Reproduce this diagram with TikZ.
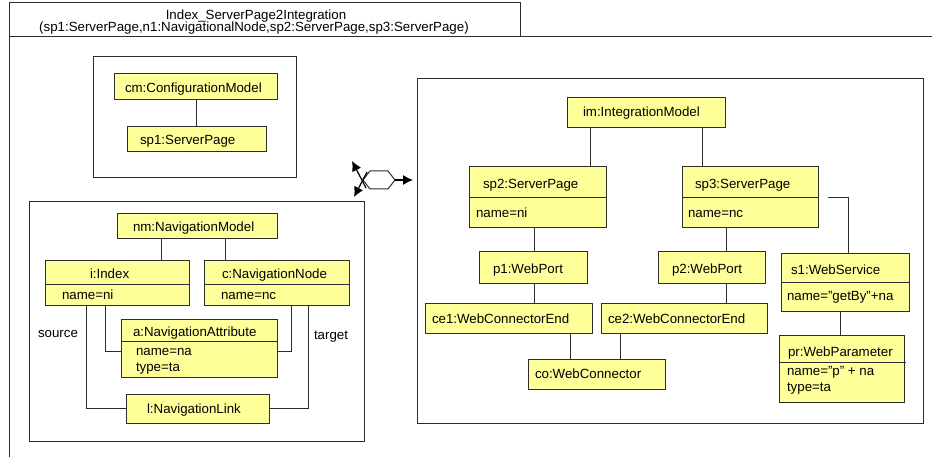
\documentclass[tikz,border=0pt]{standalone}
\usepackage{fontspec}
\setmainfont{Liberation Sans}
\usetikzlibrary{arrows.meta}
\definecolor{objfill}{RGB}{255,255,153}
\definecolor{ln}{RGB}{45,45,45}
\newcommand\mkbox[6][obj]{\node[#1, minimum width={(#5-#3)*1pt}, minimum height={(#6-#4)*1pt}] (#2) at (#3,#4) {};}
\newcommand\mkdiv[2]{\draw[conn] ([yshift=-#2pt]#1.north west) -- ([yshift=-#2pt]#1.north east);}
\begin{document}
\begin{tikzpicture}[x=1pt,y=-1pt,
 obj/.style={draw=ln, fill=objfill, line width=1pt, inner sep=0pt, outer sep=0pt, anchor=north west},
 frm/.style={draw=ln, line width=1pt, inner sep=0pt, outer sep=0pt, anchor=north west},
 lbl/.style={inner sep=0pt, outer sep=0pt, anchor=base west, font=\fontsize{13.3}{15}\selectfont},
 clbl/.style={inner sep=0pt, outer sep=0pt, anchor=base, font=\fontsize{13.3}{15}\selectfont},
 conn/.style={draw=ln, line width=1pt},
 arr/.style={draw=black, line width=1.2pt, -{Latex[length=10pt,width=10pt]}}]
\useasboundingbox (0,0) rectangle (932,457);

% outer frame and header
\mkbox[frm]{hdr}{9}{3}{520}{37}
\coordinate (frR) at (932,37);
\coordinate (frB) at (9,457);
\draw[conn] (hdr.south west) -- (frR);
\draw[conn] (hdr.south west) -- (frB);
\node[clbl] (h1) at (256,20) {Index\_ServerPage2Integration};
\node[clbl] (h2) at (254,32) {(sp1:ServerPage,n1:NavigationalNode,sp2:ServerPage,sp3:ServerPage)};

% frames
\mkbox[frm]{f1}{93}{57}{296}{178}
\mkbox[frm]{f2}{29}{202}{364}{441}
\mkbox[frm]{f3}{417}{79}{923}{423}

% top-left
\mkbox{cm}{114}{74}{277}{100}
\mkbox{sp1}{127}{127}{266}{152}
\node[lbl] (cmt) at (125,93) {cm:ConfigurationModel};
\node[lbl] (sp1t) at (140,145) {sp1:ServerPage};
\draw[conn] ([xshift=82pt]cm.south west) -- ([xshift=69pt]sp1.north west);

% bottom-left
\mkbox{nm}{117}{214}{277}{239}
\mkbox{ii}{45}{261}{189}{305}
\mkbox{cc}{204}{261}{349}{305}
\mkbox{aa}{121}{319}{277}{377}
\mkbox{ll}{126}{394}{269}{423}
\mkdiv{ii}{23}
\mkdiv{cc}{23}
\mkdiv{aa}{22}
\node[lbl] (nmt) at (133,231.5) {nm:NavigationModel};
\node[lbl] (iit) at (90,279) {i:Index};
\node[lbl] (iia) at (62,299.5) {name=ni};
\node[lbl] (cct) at (222,279) {c:NavigationNode};
\node[lbl] (cca) at (221,299.5) {name=nc};
\node[lbl] (aat) at (133,336.5) {a:NavigationAttribute};
\node[lbl] (aa1) at (136,355.5) {name=na};
\node[lbl] (aa2) at (136,371) {type=ta};
\node[lbl] (llt) at (147,413) {l:NavigationLink};
\node[lbl] (src) at (38,337) {source};
\node[lbl] (tgt) at (314,339) {target};
\draw[conn] ([xshift=44pt]nm.south west) -- ([xshift=116pt]ii.north west);
\draw[conn] ([xshift=108pt]nm.south west) -- ([xshift=21pt]cc.north west);
\draw[conn] ([xshift=60pt]ii.south west) |- ([yshift=-32pt]aa.north west);
\draw[conn] ([xshift=87pt]cc.south west) |- ([yshift=-32pt]aa.north east);
\draw[conn] ([xshift=41pt]ii.south west) |- ([yshift=-14pt]ll.north west);
\draw[conn] ([xshift=104pt]cc.south west) |- ([yshift=-14pt]ll.north east);

% transformation symbol
\draw[conn, fill=white] (363,180) -- (370,171) -- (388,171) -- (395,180) -- (388,189) -- (370,189) -- cycle;
\coordinate (hxR) at (395,180);
\coordinate (hxT) at (413,180);
\coordinate (ul0) at (366,188);
\coordinate (ul1) at (352,161);
\coordinate (dl0) at (367,172);
\coordinate (dl1) at (354,197);
\draw[arr] (hxR) -- (hxT);
\draw[arr] (ul0) -- (ul1);
\draw[arr] (dl0) -- (dl1);

% right
\mkbox{im}{567}{98}{725}{128}
\mkbox{sp2}{469}{167}{606}{228}
\mkbox{sp3}{682}{167}{818}{228}
\mkbox{p1}{479}{252}{587}{283}
\mkbox{p2}{658}{252}{765}{283}
\mkbox{ce1}{425}{303}{592}{333}
\mkbox{ce2}{601}{303}{767}{333}
\mkbox{co}{528}{359}{665}{389}
\mkbox{s1}{781}{254}{909}{311}
\mkbox{pr}{779}{335}{904}{402}
\mkdiv{sp2}{31}
\mkdiv{sp3}{31}
\mkdiv{s1}{28}
\draw[conn] ([yshift=-27pt]pr.north west) -- ([yshift=-27pt,xshift=2pt]pr.north east);
\node[lbl] (imt) at (583,117) {im:IntegrationModel};
\node[lbl] (sp2t) at (483,189) {sp2:ServerPage};
\node[lbl] (sp2a) at (476,218) {name=ni};
\node[lbl] (sp3t) at (695,189) {sp3:ServerPage};
\node[lbl] (sp3a) at (688,218) {name=nc};
\node[lbl] (p1t) at (493,273) {p1:WebPort};
\node[lbl] (p2t) at (672,273) {p2:WebPort};
\node[lbl] (ce1t) at (432,323) {ce1:WebConnectorEnd};
\node[lbl] (ce2t) at (608,323) {ce2:WebConnectorEnd};
\node[lbl] (cot) at (535,378.5) {co:WebConnector};
\node[lbl] (s1t) at (791,274) {s1:WebService};
\node[lbl] (s1a) at (787,301) {name=”getBy”+na};
\node[lbl] (prt) at (788,356) {pr:WebParameter};
\node[lbl] (pr1) at (787,375.5) {name=”p” + na};
\node[lbl] (pr2) at (787,391) {type=ta};
\draw[conn] ([xshift=23pt]im.south west) -- ([xshift=121pt]sp2.north west);
\draw[conn] ([xshift=135pt]im.south west) -- ([xshift=20pt]sp3.north west);
\draw[conn] ([xshift=65pt]sp2.south west) -- ([xshift=55pt]p1.north west);
\draw[conn] ([xshift=44pt]sp3.south west) -- ([xshift=68pt]p2.north west);
\draw[conn] ([xshift=55pt]p1.south west) -- ([xshift=109pt]ce1.north west);
\draw[conn] ([xshift=68pt]p2.south west) -- ([xshift=125pt]ce2.north west);
\draw[conn] ([xshift=145pt]ce1.south west) -- ([xshift=42pt]co.north west);
\draw[conn] ([xshift=19pt]ce2.south west) -- ([xshift=92pt]co.north west);
\draw[conn] ([xshift=10pt]sp3.east) -| ([xshift=67pt]s1.north west);
\draw[conn] ([xshift=59pt]s1.south west) -- ([xshift=61pt]pr.north west);
\end{tikzpicture}
\end{document}
